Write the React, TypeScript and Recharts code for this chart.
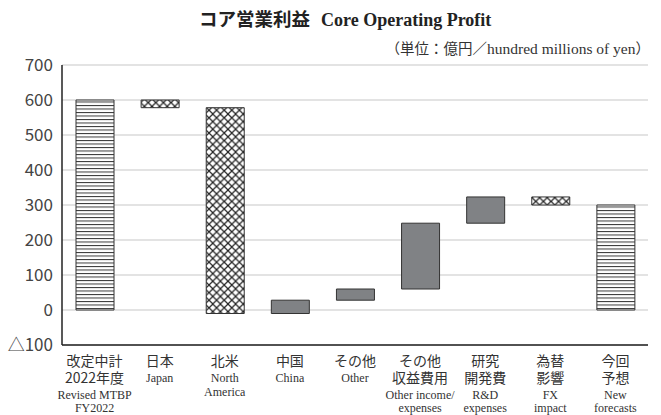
import { BarChart, Bar, XAxis, YAxis, CartesianGrid, Cell } from 'recharts';

const jpLabels = [
    ['改定中計', '2022年度'],
    ['日本'],
    ['北米'],
    ['中国'],
    ['その他'],
    ['その他', '収益費用'],
    ['研究', '開発費'],
    ['為替', '影響'],
    ['今回', '予想'],
];
const enLabels = [
    ['Revised MTBP', 'FY2022'],
    ['Japan'],
    ['North', 'America'],
    ['China'],
    ['Other'],
    ['Other income/', 'expenses'],
    ['R&D', 'expenses'],
    ['FX', 'impact'],
    ['New', 'forecasts'],
];
const barLow = [0, 578, -10, -10, 28, 60, 248, 300, 0];
const barHigh = [600, 600, 578, 28, 60, 248, 323, 323, 300];
const barKind = ['total', 'hatch', 'hatch', 'grey', 'grey', 'grey', 'grey', 'hatch', 'total'];
const yTicks = [-100, 0, 100, 200, 300, 400, 500, 600, 700];

const data = jpLabels.map((jp, i) => ({
    name: jp.join(''),
    range: [barLow[i], barHigh[i]],
}));

const fills: Record<string, string> = {
    total: 'url(#hlines)',
    hatch: 'url(#xhatch)',
    grey: '#808285',
};

const JP_FONT = '"Noto Sans CJK JP", "Noto Sans", sans-serif';
const EN_FONT = '"Liberation Serif", "DejaVu Serif", serif';

function CategoryTick(props: any) {
    const { x, payload } = props;
    const i = payload.index;
    const jp = jpLabels[i];
    const en = enLabels[i];
    const jpStart = 366;
    const enStart = jpStart + (jp.length - 1) * 16.5 + 16;
    return (
        <g>
            {jp.map((t, k) => (
                <text key={'j' + k} x={x} y={jpStart + k * 16.5} textAnchor="middle"
                    fontFamily={JP_FONT} fontSize={14} fill="#333">
                    {t}
                </text>
            ))}
            {en.map((t, k) => (
                <text key={'e' + k} x={x} y={enStart + k * 13.5} textAnchor="middle"
                    fontFamily={EN_FONT} fontSize={12} fill="#333">
                    {t}
                </text>
            ))}
        </g>
    );
}

export default function App() {
    return (
        <div style={{ position: 'absolute', left: 0, top: 0, width: 661, height: 415, background: '#fff' }}>
            <div style={{ position: 'absolute', left: 199, top: 5, whiteSpace: 'nowrap', fontWeight: 700, color: '#222' }}>
                <span style={{ fontFamily: JP_FONT, fontSize: 18.5 }}>コア営業利益</span>
                <span style={{ fontFamily: EN_FONT, fontSize: 18, marginLeft: 11 }}>Core Operating Profit</span>
            </div>
            <div style={{ position: 'absolute', right: 11, top: 37, color: '#333', whiteSpace: 'nowrap' }}>
                <span style={{ fontFamily: JP_FONT, fontSize: 14.5 }}>（単位：億円／</span>
                <span style={{ fontFamily: EN_FONT, fontSize: 15.5 }}>hundred millions of yen</span>
                <span style={{ fontFamily: JP_FONT, fontSize: 14.5 }}>）</span>
            </div>
            <BarChart width={661} height={415} data={data} margin={{ top: 65, right: 13, bottom: 0, left: 0 }}>
                <defs>
                    <pattern id="hlines" width="8" height="3.5" patternUnits="userSpaceOnUse">
                        <rect width="8" height="3.5" fill="#fff" />
                        <line x1="0" y1="0.5" x2="8" y2="0.5" stroke="#333" strokeWidth="1" />
                    </pattern>
                    <pattern id="xhatch" width="7.6" height="7.6" patternUnits="userSpaceOnUse">
                        <rect width="7.6" height="7.6" fill="#fff" />
                        <path d="M0,0 L7.6,7.6 M7.6,0 L0,7.6" stroke="#222" strokeWidth="1.2" />
                    </pattern>
                </defs>
                <CartesianGrid vertical={false} stroke="#c8c8c8" strokeWidth={1.2} />
                <XAxis dataKey="name" interval={0} height={70} tickLine={false}
                    axisLine={{ stroke: '#222', strokeWidth: 1.5 }} tick={<CategoryTick />} />
                <YAxis domain={[-100, 700]} ticks={yTicks} width={62} tickLine={false}
                    axisLine={{ stroke: '#222', strokeWidth: 1.5 }} tickMargin={3}
                    interval={0}
                    tick={{ fontFamily: JP_FONT, fontSize: 17, fill: '#444' }}
                    tickFormatter={(v: number) => (v < 0 ? '△' + Math.abs(v) : String(v))} />
                <Bar dataKey="range" barSize={38} stroke="#333" strokeWidth={1} isAnimationActive={false}>
                    {data.map((_, i) => (
                        <Cell key={i} fill={fills[barKind[i]]} />
                    ))}
                </Bar>
            </BarChart>
        </div>
    );
}
